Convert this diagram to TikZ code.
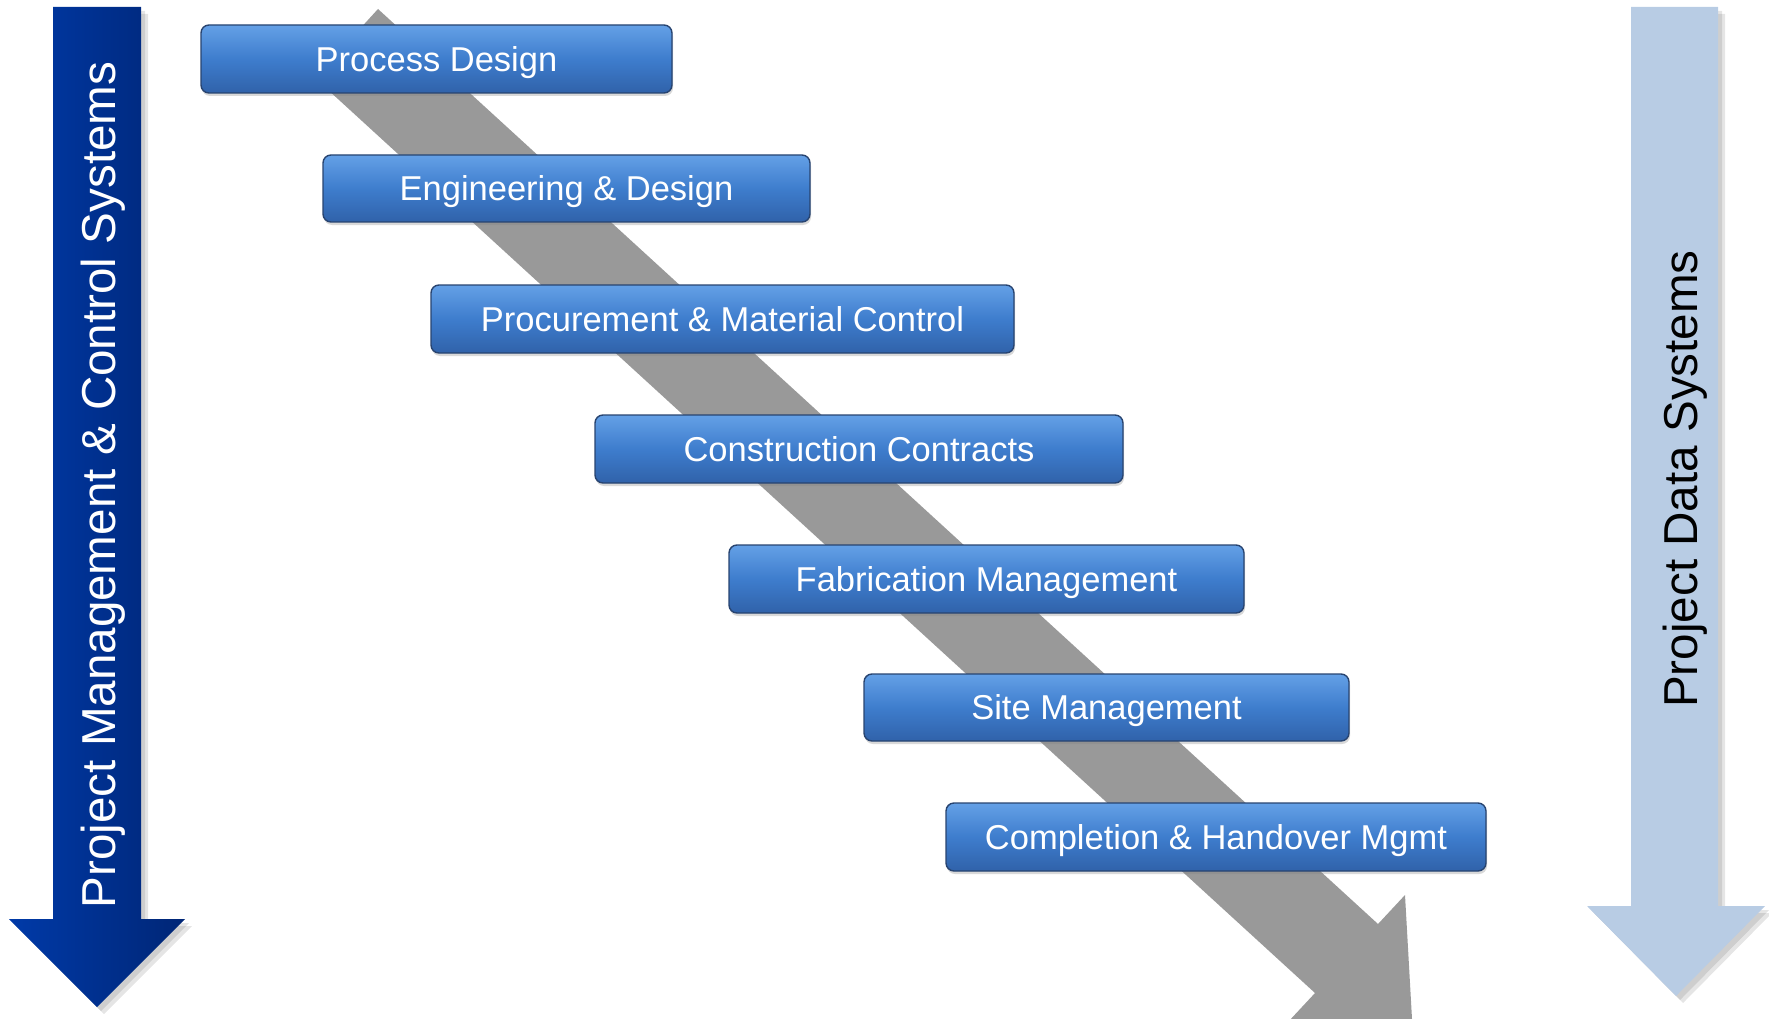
\documentclass[tikz,border=0pt]{standalone}
\usepackage{fontspec}
\setmainfont{Liberation Sans}
\usetikzlibrary{shadows}
\definecolor{boxmid}{RGB}{62,125,205}
\definecolor{boxtop}{RGB}{100,160,230}
\definecolor{boxbot}{RGB}{48,98,170}
\definecolor{boxedge}{RGB}{40,68,112}
\definecolor{darkL}{RGB}{0,58,168}
\definecolor{darkR}{RGB}{0,38,118}
\definecolor{lightblue}{RGB}{184,204,228}
\definecolor{flowgray}{RGB}{153,153,153}
\tikzset{
  stage/.style={draw=boxedge, line width=1.4pt, rounded corners=8pt,
    top color=boxtop, bottom color=boxbot, middle color=boxmid,
    text=white, font=\fontsize{34.5}{40}\selectfont, inner sep=0pt,
    text height=24.7pt, text depth=0pt,
    drop shadow={shadow xshift=1pt, shadow yshift=-3pt, opacity=0.3}},
  sidetext/.style={rotate=90, anchor=base, font=\fontsize{47.6}{54}\selectfont},
  softshadow/.style={fill=black, opacity=0.1},
}
\begin{document}
\begin{tikzpicture}[x=1pt,y=-1pt]
\useasboundingbox (0,0) rectangle (1769,1019);
\begin{scope}
\clip (0,0) rectangle (1769,1019);
% big diagonal flow arrow
\fill[flowgray] (378,9) -- (1378,924) -- (1405,895) -- (1412,1019) -- (1288,1022) -- (1315,993) -- (315,78) -- cycle;
\end{scope}
% left arrow
\foreach \d in {4,7}{
\fill[softshadow] (53+\d,7+\d) -- (141+\d,7+\d) -- (141+\d,919+\d) -- (185+\d,919+\d) -- (97+\d,1007+\d) -- (9+\d,919+\d) -- (53+\d,919+\d) -- cycle;}
\shade[left color=darkL, right color=darkR] (53,7) -- (141,7) -- (141,919) -- (185,919) -- (97,1007) -- (9,919) -- (53,919) -- cycle;
\node[sidetext, text=white] (lefttext) at (115,485) {Project Management \& Control Systems};
% right arrow
\foreach \d in {4,7}{
\fill[softshadow] (1631+\d,7+\d) -- (1718+\d,7+\d) -- (1718+\d,906+\d) -- (1765+\d,906+\d) -- (1676+\d,996+\d) -- (1587+\d,906+\d) -- (1631+\d,906+\d) -- cycle;}
\fill[lightblue] (1631,7) -- (1718,7) -- (1718,906) -- (1765,906) -- (1676,996) -- (1587,906) -- (1631,906) -- cycle;
\node[sidetext, text=black] (righttext) at (1697,479) {Project Data Systems};
% stages
\node[stage, minimum width=471pt, minimum height=68pt] (s1) at (436.5,59) {Process Design};
\node[stage, minimum width=487pt, minimum height=67pt] (s2) at (566.5,188.5) {Engineering \& Design};
\node[stage, minimum width=583pt, minimum height=68pt] (s3) at (722.5,319) {Procurement \& Material Control};
\node[stage, minimum width=528pt, minimum height=68pt] (s4) at (859,449) {Construction Contracts};
\node[stage, minimum width=515pt, minimum height=68pt] (s5) at (986.5,579) {Fabrication Management};
\node[stage, minimum width=485pt, minimum height=67pt] (s6) at (1106.5,707.5) {Site Management};
\node[stage, minimum width=540pt, minimum height=68pt] (s7) at (1216,837) {Completion \& Handover Mgmt};
\end{tikzpicture}
\end{document}
